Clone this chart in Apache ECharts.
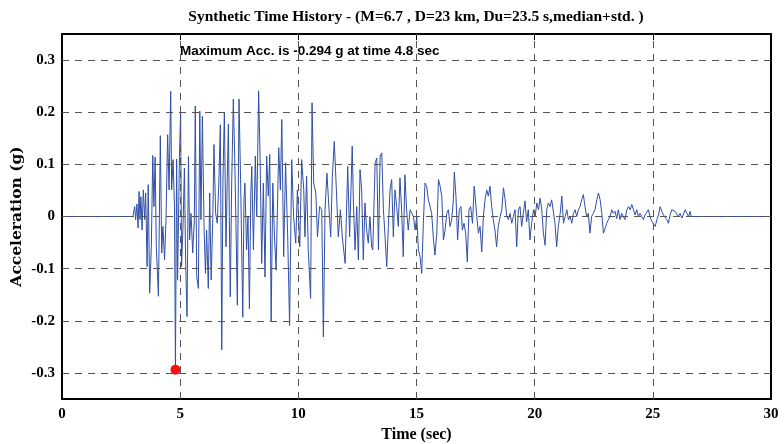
<!DOCTYPE html>
<html>
<head>
<meta charset="utf-8">
<script src="https://cdn.jsdelivr.net/npm/echarts@6/dist/echarts.min.js"></script>
<style>html,body{margin:0;padding:0;background:#fff;}#chart{width:784px;height:444px;}</style>
</head>
<body>
<div id="chart"></div>
<script>
const titleText = 'Synthetic Time History - (M=6.7 , D=23 km, Du=23.5 s,median+std. )';
const noteText = 'Maximum Acc. is -0.294 g at time 4.8 sec';
const xTicks = [0, 5, 10, 15, 20, 25, 30];
const yTicks = [-0.3, -0.2, -0.1, 0, 0.1, 0.2, 0.3];
const peakPoint = [4.8, -0.294];

const times = [
 0, 3.0, 3.075, 3.117, 3.17, 3.22, 3.26, 3.30, 3.34, 3.39, 3.44, 3.50, 3.54, 3.60, 3.65, 3.71, 3.78, 3.84, 3.89, 3.94,
 3.99, 4.08, 4.16, 4.22, 4.27, 4.34, 4.40, 4.47, 4.53, 4.60, 4.64, 4.70, 4.76, 4.80, 4.85, 4.89, 4.97, 5.02, 5.06, 5.12,
 5.18, 5.23, 5.29, 5.35, 5.40, 5.46, 5.53, 5.60, 5.64, 5.70, 5.77, 5.83, 5.88, 5.94, 6.01, 6.07, 6.12, 6.19, 6.25, 6.31,
 6.38, 6.43, 6.50, 6.57, 6.64, 6.70, 6.76, 6.81, 6.87, 6.94, 6.99, 7.04, 7.08, 7.12, 7.18, 7.25, 7.31, 7.36, 7.42, 7.49,
 7.56, 7.65, 7.70, 7.74, 7.81, 7.87, 7.93, 7.99, 8.03, 8.10, 8.18, 8.24, 8.32, 8.38, 8.45, 8.52, 8.59, 8.66, 8.73, 8.79,
 8.85, 8.92, 8.99, 9.06, 9.17, 9.24, 9.30, 9.38, 9.46, 9.55, 9.63, 9.72, 9.80, 9.89, 9.96, 10.06, 10.14, 10.23, 10.28, 10.35,
 10.42, 10.52, 10.58, 10.65, 10.74, 10.81, 10.90, 10.99, 11.06, 11.13, 11.21, 11.30, 11.37, 11.44, 11.52, 11.61, 11.69, 11.78, 11.86, 11.98,
 12.09, 12.17, 12.28, 12.33, 12.40, 12.47, 12.54, 12.61, 12.68, 12.75, 12.82, 12.89, 12.96, 13.03, 13.10, 13.15, 13.25, 13.32, 13.39, 13.46,
 13.53, 13.60, 13.67, 13.74, 13.81, 13.88, 13.95, 14.02, 14.09, 14.16, 14.23, 14.30, 14.37, 14.44, 14.51, 14.58, 14.65, 14.73, 14.80, 14.87,
 14.94, 15.01, 15.08, 15.15, 15.22, 15.29, 15.36, 15.43, 15.50, 15.57, 15.64, 15.72, 15.78, 15.86, 15.93, 16.00, 16.07, 16.14, 16.21, 16.28,
 16.35, 16.42, 16.49, 16.56, 16.60, 16.67, 16.74, 16.81, 16.88, 16.94, 17.01, 17.08, 17.15, 17.22, 17.29, 17.37, 17.44, 17.48, 17.55, 17.62,
 17.69, 17.76, 17.83, 17.90, 17.97, 18.04, 18.11, 18.18, 18.25, 18.32, 18.39, 18.46, 18.54, 18.61, 18.68, 18.75, 18.82, 18.89, 18.96, 19.03,
 19.10, 19.17, 19.24, 19.31, 19.38, 19.45, 19.52, 19.59, 19.66, 19.73, 19.80, 19.87, 19.95, 20.02, 20.09, 20.16, 20.23, 20.30, 20.37, 20.44,
 20.51, 20.58, 20.65, 20.72, 20.79, 20.86, 20.93, 21.00, 21.08, 21.15, 21.22, 21.29, 21.36, 21.43, 21.50, 21.57, 21.64, 21.71, 21.78, 21.85,
 21.92, 21.99, 22.06, 22.13, 22.20, 22.27, 22.34, 22.41, 22.48, 22.55, 22.63, 22.70, 22.77, 22.84, 22.91, 22.98, 23.05, 23.12, 23.19, 23.26,
 23.33, 23.40, 23.47, 23.54, 23.61, 23.68, 23.75, 23.82, 23.90, 23.97, 24.04, 24.11, 24.18, 24.25, 24.32, 24.39, 24.46, 24.53, 24.60, 24.67,
 24.74, 24.81, 24.88, 24.96, 25.03, 25.10, 25.17, 25.24, 25.31, 25.38, 25.45, 25.52, 25.59, 25.66, 25.73, 25.80, 25.87, 25.94, 26.01, 26.08,
 26.15, 26.23, 26.30, 26.37, 26.44, 26.51, 26.58, 26.62, 30
];

const acc = [
 0, 0, 0.019, -0.006, 0.024, -0.022, 0.048, -0.006, 0.038, -0.026, 0.051, -0.006, 0.045, -0.096, 0.061, -0.147, -0.058, 0.117, 0.019, 0.114,
 -0.058, -0.153, 0.155, -0.07, -0.019, -0.083, -0.006, 0.157, 0.051, 0.24, 0.051, 0.109, 0.019, -0.294, 0.11, -0.122, 0.115, 0.199, -0.096, -0.019,
 0.093, -0.083, -0.192, 0.115, -0.045, 0.006, -0.07, -0.006, 0.212, -0.115, -0.138, 0.202, -0.006, 0.192, -0.019, -0.109, -0.026, -0.138, 0.045, -0.122,
 -0.006, 0.138, 0.006, -0.013, 0.07, 0.176, -0.256, 0.07, 0.2, -0.058, 0.064, 0.177, 0, -0.154, 0.064, 0.225, 0.109, -0.013, -0.17, 0.225,
 0.064, -0.193, 0.032, 0.064, -0.064, 0, -0.177, 0.045, 0.096, -0.064, 0.116, 0, 0.241, 0.116, -0.09, 0.064, -0.116, 0.116, 0.039, 0.119,
 -0.202, 0.064, -0.039, -0.103, 0.132, 0.051, 0.186, -0.077, 0.103, -0.039, -0.209, 0.109, 0, -0.051, 0.051, -0.058, 0.109, 0.051, -0.039, 0.077,
 -0.064, -0.157, 0.218, 0.064, 0.045, -0.039, 0.019, 0.013, -0.231, 0.013, 0.083, 0.013, -0.039, 0.077, 0.144, 0.051, -0.039, 0.013, -0.039, -0.09,
 0.096, -0.039, 0.135, 0.026, -0.064, 0.019, -0.083, 0.09, 0.051, -0.083, 0.026, -0.026, -0.051, 0, -0.058, -0.064, 0.103, 0.112, -0.064, 0.116,
 0.122, 0.013, -0.039, -0.096, -0.019, 0.051, 0.071, -0.039, 0.051, 0.019, -0.019, 0.074, 0.013, -0.077, 0.08, 0.013, -0.026, 0.013, 0.006, 0,
 -0.026, 0, -0.064, -0.077, -0.109, -0.013, 0.064, 0.058, 0.032, 0.02, 0.006, -0.045, -0.074, -0.032, 0.071, 0.058, 0.039, -0.045, -0.026, 0.006,
 0.013, -0.019, -0.006, 0.032, 0.085, 0.039, -0.045, 0.013, 0.019, -0.026, -0.013, -0.032, -0.087, 0.013, 0.019, -0.013, 0.058, 0.039, 0, -0.032,
 -0.019, -0.068, 0, 0.032, 0.051, 0.039, 0.058, 0.019, -0.006, -0.026, -0.058, -0.019, 0, 0.013, 0.055, 0.032, 0, -0.006, 0.006, -0.013,
 0, 0.013, -0.058, 0.013, 0.019, -0.019, 0.006, 0.03, -0.01, 0.013, -0.045, -0.013, 0.013, 0, 0.026, 0.013, 0.035, 0.013, -0.032, -0.055,
 0.013, 0.026, 0.019, 0.032, 0.035, -0.013, -0.058, -0.019, 0.006, 0.039, -0.013, 0, 0.013, -0.006, 0, -0.013, 0.006, 0.013, 0, 0.013,
 0.019, 0.032, 0.042, 0.019, 0, 0.006, -0.032, 0, 0.006, 0.013, 0.032, 0.045, 0.032, 0.006, -0.032, -0.023, -0.013, -0.006, 0, 0.013,
 0.006, 0.01, -0.004, 0.013, -0.006, 0.006, 0, -0.006, 0.013, 0.019, 0.013, 0.023, 0.013, 0.003, 0.013, 0, 0.006, 0, -0.006, 0.003,
 0.006, 0.013, 0, -0.01, -0.013, -0.019, -0.006, 0.003, 0.019, 0.01, 0.003, 0, -0.006, -0.013, 0.003, 0.013, 0.016, 0.01, 0.013, 0,
 0.006, -0.003, -0.006, 0.013, 0.006, 0, 0.01, 0, 0
];

const lineData = times.map((t, i) => [t, acc[i]]);
const serif = 'Liberation Serif';
const gridStyle = { color: '#555', width: 1, type: [7, 6] };

const chart = echarts.init(document.getElementById('chart'), null, { renderer: 'canvas' });
const gridLines = [];
yTicks.forEach(v => gridLines.push({ yAxis: v }));
xTicks.slice(1, -1).forEach(v => gridLines.push({ xAxis: v }));

const axisCommon = {
  type: 'value', min: 0, max: 30, interval: 5,
  axisLine: { show: true, onZero: false, lineStyle: { color: '#000', width: 2 } },
  axisTick: { show: true, inside: true, length: 6, lineStyle: { color: '#000', width: 1 } },
  splitLine: { show: false }
};
const yCommon = {
  type: 'value', min: -0.35, max: 0.35,
  axisLine: { show: true, onZero: false, lineStyle: { color: '#000', width: 2 } },
  axisTick: { show: true, inside: true, length: 6, customValues: yTicks, lineStyle: { color: '#000', width: 1 } },
  splitLine: { show: false }
};

chart.setOption({
  animation: false,
  backgroundColor: '#fff',
  grid: { left: 62, right: 13, top: 34, bottom: 45, containLabel: false, outerBoundsMode: 'none' },
  xAxis: [
    Object.assign({}, axisCommon, {
      position: 'bottom',
      name: 'Time (sec)', nameLocation: 'middle', nameGap: 27,
      nameTextStyle: { fontFamily: serif, fontWeight: 'bold', fontSize: 16, color: '#000' },
      axisLabel: { show: true, margin: 8, fontFamily: serif, fontWeight: 'bold', fontSize: 15, color: '#000' }
    }),
    Object.assign({}, axisCommon, { position: 'top', axisLabel: { show: false } })
  ],
  yAxis: [
    Object.assign({}, yCommon, {
      position: 'left',
      name: 'Acceleration (g)', nameLocation: 'middle', nameGap: 37, nameRotate: 90, nameMoveOverlap: false,
      nameTextStyle: { fontFamily: 'DejaVu Serif', fontWeight: 'bold', fontSize: 15.5, color: '#000' },
      axisLabel: {
        show: true, customValues: yTicks, margin: 7, fontFamily: serif, fontWeight: 'bold', fontSize: 15, color: '#000',
        formatter: v => (Math.abs(v) < 1e-9 ? '0' : String(Math.round(v * 10) / 10))
      }
    }),
    Object.assign({}, yCommon, { position: 'right', axisLabel: { show: false } })
  ],
  graphic: [
    {
      type: 'text', x: 416, y: 17,
      style: { text: titleText, font: 'bold 15.5px "Liberation Serif", serif', fill: '#000', align: 'center', verticalAlign: 'middle' }
    },
    {
      type: 'text', left: 180, top: 44,
      style: { text: noteText, font: 'bold 13.5px "Liberation Sans", Arial, sans-serif', fill: '#000' }
    }
  ],
  series: [
    {
      name: 'grid', type: 'line', data: [], z: 1, silent: true,
      markLine: { silent: true, symbol: 'none', label: { show: false }, lineStyle: gridStyle, data: gridLines, animation: false }
    },
    {
      name: 'acc', type: 'line', data: lineData, z: 3, showSymbol: false, symbol: 'none',
      lineStyle: { color: '#2f4fa8', width: 1 }, silent: true
    },
    {
      name: 'peak', type: 'scatter', data: [peakPoint], z: 4, symbolSize: 10,
      itemStyle: { color: '#ff1010', opacity: 1 }, silent: true
    }
  ]
});
</script>
</body>
</html>
